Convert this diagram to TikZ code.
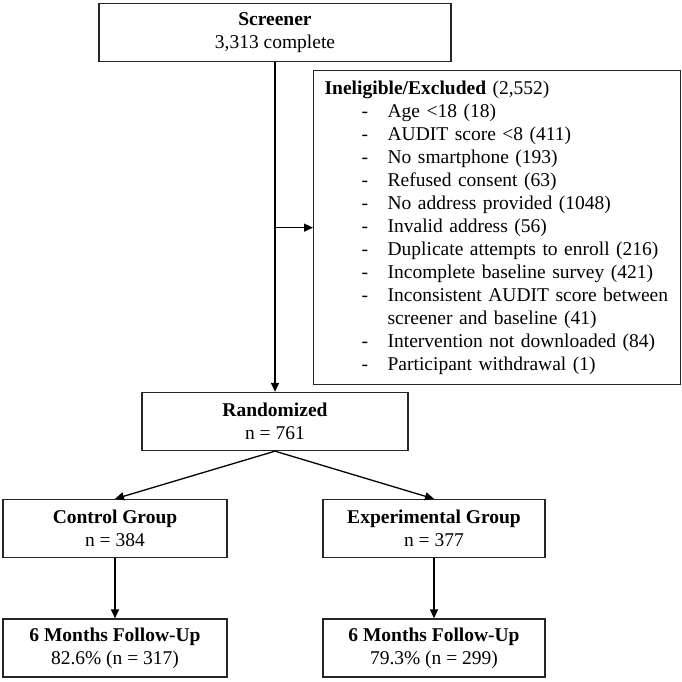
\documentclass[tikz,border=0pt]{standalone}
\usepackage{fontspec}
\setmainfont{Liberation Serif}
\usepackage{tikz}
\usetikzlibrary{arrows.meta}

\tikzset{
  flowbox/.style={draw=black!85,line width=1.3pt,rectangle,align=center,
    inner sep=2pt,minimum height=58pt,font=\fontsize{19.5}{23}\selectfont},
  arr/.style={line width=1.3pt,-{Triangle[length=9pt,width=8pt]}},
}
\newcommand{\dsh}{\hspace*{37pt}\makebox[26pt][l]{-}}

\begin{document}
\begin{tikzpicture}[x=1pt,y=-1pt]
  \useasboundingbox (0,0) rectangle (682,681);
  \node[flowbox,minimum width=352pt] (screen) at (275,32.5)
    {\textbf{Screener}\\3,313 complete};
  \node[flowbox,anchor=north west,minimum width=367pt,minimum height=314pt,
    text width=345pt,align=left,inner xsep=11pt] (excl) at (313,70)
    {\textbf{Ineligible/Excluded} (2,552)\\
     \dsh Age <18 (18)\\
     \dsh AUDIT score <8 (411)\\
     \dsh No smartphone (193)\\
     \dsh Refused consent (63)\\
     \dsh No address provided (1048)\\
     \dsh Invalid address (56)\\
     \dsh Duplicate attempts to enroll (216)\\
     \dsh Incomplete baseline survey (421)\\
     \dsh Inconsistent AUDIT score between\\
     \hspace*{63pt}screener and baseline (41)\\
     \dsh Intervention not downloaded (84)\\
     \dsh Participant withdrawal (1)};
  \node[flowbox,minimum width=266pt] (rand) at (275,421.5)
    {\textbf{Randomized}\\n = 761};
  \node[flowbox,minimum width=224pt] (ctrl) at (115,528.5)
    {\textbf{Control Group}\\n = 384};
  \node[flowbox,minimum width=222pt] (expt) at (434,528.5)
    {\textbf{Experimental Group}\\n = 377};
  \node[flowbox,minimum width=224pt] (fuctrl) at (115,648)
    {\textbf{6 Months Follow-Up}\\82.6\% (n = 317)};
  \node[flowbox,minimum width=222pt] (fuexpt) at (434,648)
    {\textbf{6 Months Follow-Up}\\79.3\% (n = 299)};

  \draw[arr] (screen) -- (rand);
  \draw[arr] (screen.south |- excl.west) -- (excl.west);
  \draw[arr] (rand.south) -- (ctrl.north);
  \draw[arr] (rand.south) -- (expt.north);
  \draw[arr] (ctrl) -- (fuctrl);
  \draw[arr] (expt) -- (fuexpt);
\end{tikzpicture}
\end{document}
